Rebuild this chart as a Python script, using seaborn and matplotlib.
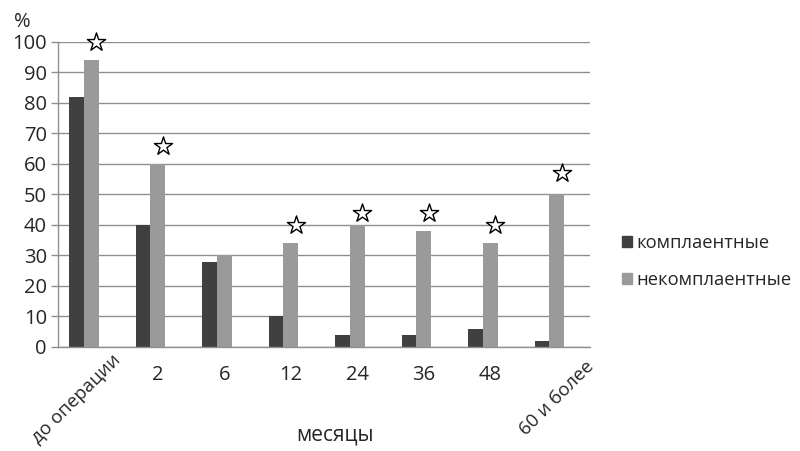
import pandas as pd
import numpy as np
import matplotlib
matplotlib.use("Agg")
import matplotlib.pyplot as plt
from matplotlib.patches import Patch
import seaborn as sns

categories = ["до операции", "2", "6", "12", "24", "36", "48", "60 и более"]
compliant = [82, 40, 28, 10, 4, 4, 6, 2]
noncompliant = [94, 60, 30, 34, 40, 38, 34, 50]
star_y = [100, 66, np.nan, 40, 44, 44, 40, 57]
series = ["комплаентные", "некомплаентные", " "]

sns.set_style("white")
plt.rcParams["font.family"] = ["Open Sans", "DejaVu Sans"]

df = pd.DataFrame({
    "cat": categories * 3,
    "val": compliant + noncompliant + [0] * len(categories),
    "grp": [series[0]] * 8 + [series[1]] * 8 + [series[2]] * 8,
})
palette = {series[0]: "#404040", series[1]: "#9a9a9a", series[2]: "#ffffff"}

fig = plt.figure(figsize=(8, 4.51), dpi=100)
ax = fig.add_axes([0.0725, 0.2306, 0.665, 0.6763])
sns.barplot(data=df, x="cat", y="val", hue="grp", hue_order=series,
            palette=palette, width=0.66, saturation=1, legend=False, ax=ax,
            order=categories, linewidth=0)

xs = np.arange(len(categories)) + 0.075
ax.scatter(xs, star_y, marker="*", s=190, facecolor="white",
           edgecolor="black", linewidth=1.0, zorder=5, clip_on=False)

ax.set_xlim(-0.5, len(categories) - 0.5)
ax.set_ylim(0, 100)
ax.set_yticks(range(0, 101, 10))
ax.grid(axis="y", color="#8f8f8f", linewidth=1)
ax.set_axisbelow(True)
for s in ["top", "right"]:
    ax.spines[s].set_visible(False)
for s in ["left", "bottom"]:
    ax.spines[s].set_color("#8f8f8f")
    ax.spines[s].set_linewidth(1)

fs = 14.5
ax.set_xticks(range(len(categories)))
ax.set_xticklabels(["", *categories[1:-1], ""])
ax.set_xticks(np.arange(-0.5, len(categories)), minor=True)
ax.tick_params(axis="x", which="major", length=0, pad=13, labelsize=fs)
ax.tick_params(axis="x", which="minor", length=7, color="#8f8f8f", width=1)
ax.tick_params(axis="y", length=5, color="#8f8f8f", width=1, labelsize=fs, pad=3)
ax.tick_params(axis="y", which="major", left=True)

trans = ax.get_xaxis_transform()
ax.text(-0.22, -0.17, categories[0], rotation=45, ha="center", va="center",
        transform=trans, fontsize=13.5)
ax.text(7.0, -0.168, categories[-1], rotation=45, ha="center", va="center",
        transform=trans, fontsize=13.5)

ax.set_xlabel("")
ax.set_ylabel("")
fig.text(0.419, 0.035, "месяцы", fontsize=15, ha="center", va="center")
fig.text(0.028, 0.952, "%", fontsize=fs, ha="center", va="center")

handles = [Patch(color=palette[s]) for s in series[:2]]
fig.legend(handles, series[:2], loc="center left", bbox_to_anchor=(0.777, 0.42),
           frameon=False, fontsize=13.2, handlelength=0.55, handleheight=0.55,
           handletextpad=0.25, labelspacing=1.0, borderpad=0, borderaxespad=0)

fig.savefig("out.png", dpi=100)
